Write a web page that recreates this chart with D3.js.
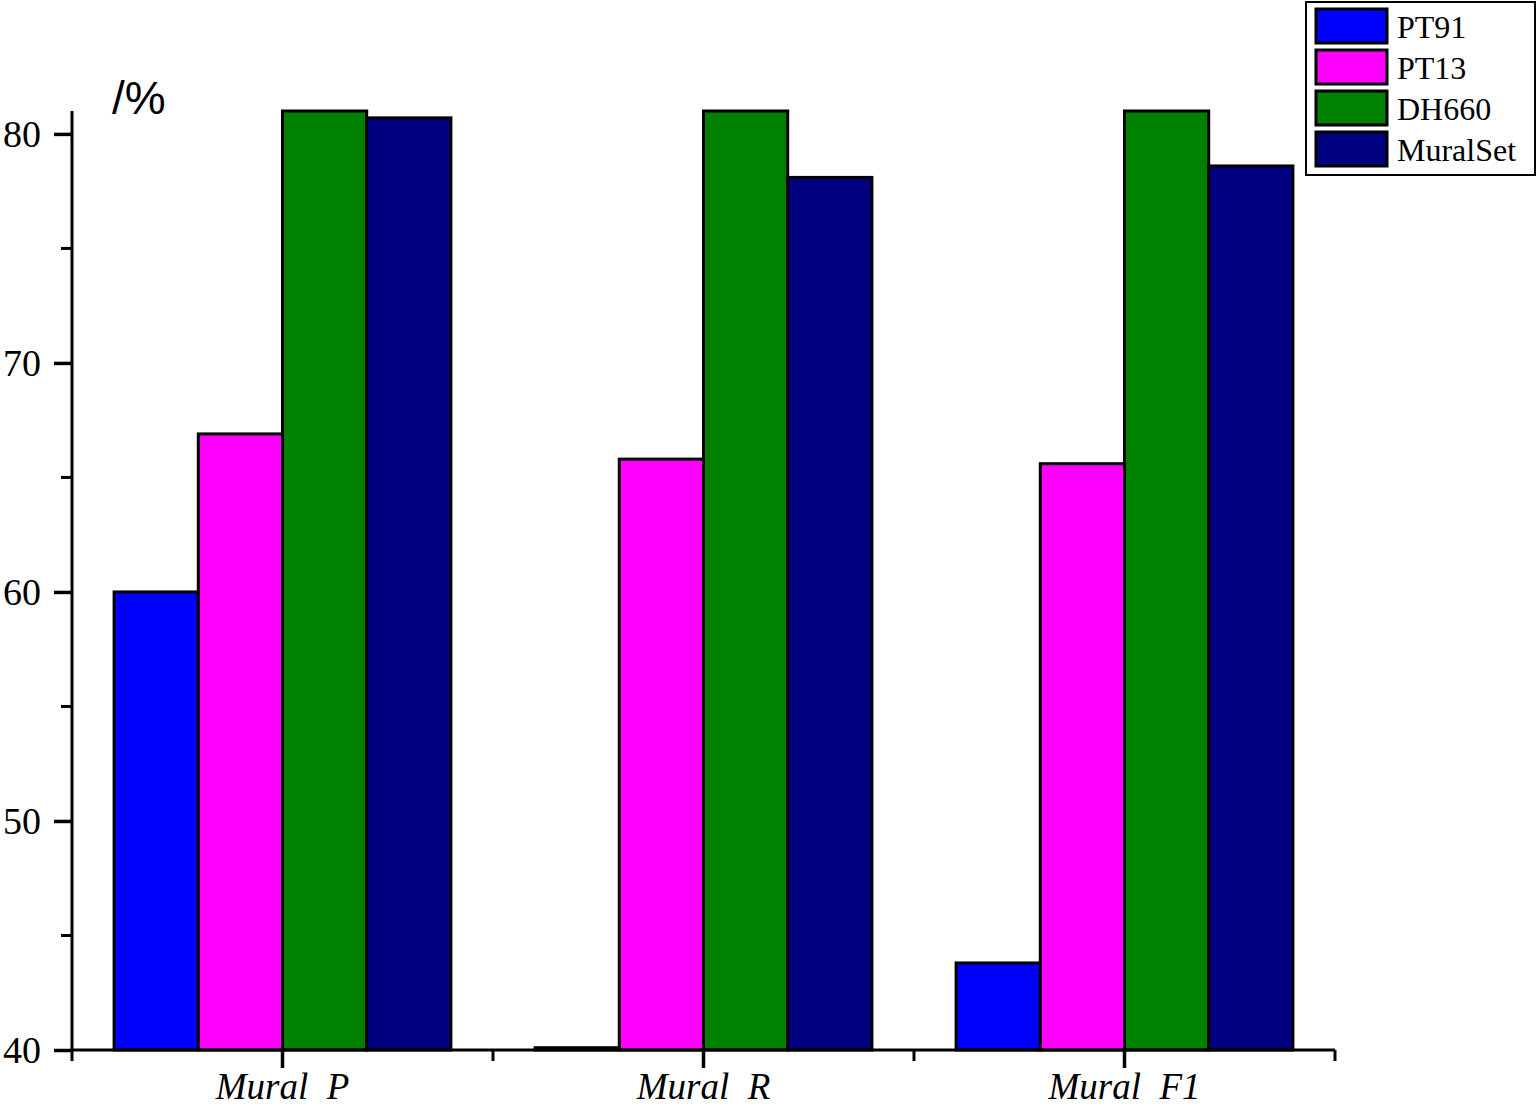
<!DOCTYPE html>
<html>
<head>
<meta charset="utf-8">
<script src="https://cdn.jsdelivr.net/npm/d3@7"></script>
<style>
  body { margin: 0; background: #fff; }
  svg { display: block; }
</style>
</head>
<body>
<svg id="chart" width="1538" height="1114"></svg>
<script>
// data
const categories = ["Mural  P", "Mural  R", "Mural  F1"];
const series = ["PT91", "PT13", "DH660", "MuralSet"];
const colors = ["#0000ff", "#ff00ff", "#008000", "#000080"];
const PT91 = [60.0, 40.1, 43.8];
const PT13 = [66.9, 65.8, 65.6];
const DH660 = [81.0, 81.0, 81.0]; // runs off the top of the axis
const MuralSet = [80.7, 78.1, 78.6];
const yMajor = [40, 50, 60, 70, 80];
const yMinor = [45, 55, 65, 75];

const values = [PT91, PT13, DH660, MuralSet];

const svg = d3.select("#chart");
const margin = { left: 72, right: 203, top: 111, bottom: 64 };
const width = 1538, height = 1114;
const w = width - margin.left - margin.right;
const h = height - margin.top - margin.bottom;

const g = svg.append("g")
  .attr("transform", "translate(" + margin.left + "," + margin.top + ")");

const x0 = d3.scaleBand()
  .domain(categories)
  .range([0, w])
  .paddingInner(0.2)
  .paddingOuter(0.1);

const x1 = d3.scaleBand()
  .domain(series)
  .range([0, x0.bandwidth()]);

const y = d3.scaleLinear().domain([40, 81]).range([h, 0]).clamp(true);

// bars
const groups = g.selectAll("g.cat")
  .data(categories)
  .enter()
  .append("g")
  .attr("class", "cat")
  .attr("transform", d => "translate(" + x0(d) + ",0)");

groups.selectAll("rect")
  .data((c, ci) => series.map((s, si) => ({ s: s, si: si, v: values[si][ci] })))
  .enter()
  .append("rect")
  .attr("x", d => x1(d.s))
  .attr("y", d => y(d.v))
  .attr("width", x1.bandwidth())
  .attr("height", d => h - y(d.v))
  .attr("fill", d => colors[d.si])
  .attr("stroke", "#000")
  .attr("stroke-width", 3);

// y axis
const yAxis = g.append("g")
  .call(d3.axisLeft(y).tickValues(yMajor).tickSize(18).tickPadding(13).tickFormat(d3.format("d")));
yAxis.select(".domain").attr("d", "M0," + h + "V0").attr("stroke-width", 3);
yAxis.selectAll(".tick line").attr("stroke-width", 3.5);
yAxis.selectAll(".tick text")
  .attr("font-family", "'Liberation Serif', 'Times New Roman', serif")
  .attr("font-size", 38)
  .attr("fill", "#000");

g.append("g")
  .selectAll("line")
  .data(yMinor)
  .enter()
  .append("line")
  .attr("x1", -11).attr("x2", 0)
  .attr("y1", d => y(d)).attr("y2", d => y(d))
  .attr("stroke", "#000")
  .attr("stroke-width", 3);

// x axis
const xAxis = g.append("g")
  .attr("transform", "translate(0," + h + ")")
  .call(d3.axisBottom(x0).tickSize(18).tickPadding(5));
xAxis.select(".domain").attr("d", "M0,0H" + w).attr("stroke-width", 3);
xAxis.selectAll(".tick line").attr("stroke-width", 3.5);
xAxis.selectAll(".tick text")
  .attr("font-family", "'Liberation Serif', 'Times New Roman', serif")
  .attr("font-style", "italic")
  .attr("font-size", 37)
  .attr("fill", "#000")
  .style("white-space", "pre");

// minor x ticks at band boundaries
const step = x0.step();
const bounds = [0].concat(categories.map(c => x0(c) + x0.bandwidth() / 2 + step / 2));
g.append("g")
  .selectAll("line")
  .data(bounds)
  .enter()
  .append("line")
  .attr("x1", d => d).attr("x2", d => d)
  .attr("y1", h).attr("y2", h + 11)
  .attr("stroke", "#000")
  .attr("stroke-width", 3);

// unit label
svg.append("text")
  .attr("x", 112)
  .attr("y", 114)
  .attr("font-family", "'Liberation Sans', Arial, sans-serif")
  .attr("font-size", 46)
  .attr("fill", "#000")
  .text("/%");

// legend
const legend = svg.append("g").attr("transform", "translate(1306,2)");
legend.append("rect")
  .attr("width", 229).attr("height", 173)
  .attr("fill", "#fff")
  .attr("stroke", "#000")
  .attr("stroke-width", 2);

const items = legend.selectAll("g.item")
  .data(series)
  .enter()
  .append("g")
  .attr("class", "item")
  .attr("transform", (d, i) => "translate(10," + (7 + i * 41) + ")");

items.append("rect")
  .attr("width", 71).attr("height", 34)
  .attr("fill", (d, i) => colors[i])
  .attr("stroke", "#000")
  .attr("stroke-width", 3);

items.append("text")
  .attr("x", 81)
  .attr("y", 29)
  .attr("font-family", "'Liberation Serif', 'Times New Roman', serif")
  .attr("font-size", 32)
  .attr("fill", "#000")
  .text(d => d);
</script>
</body>
</html>
